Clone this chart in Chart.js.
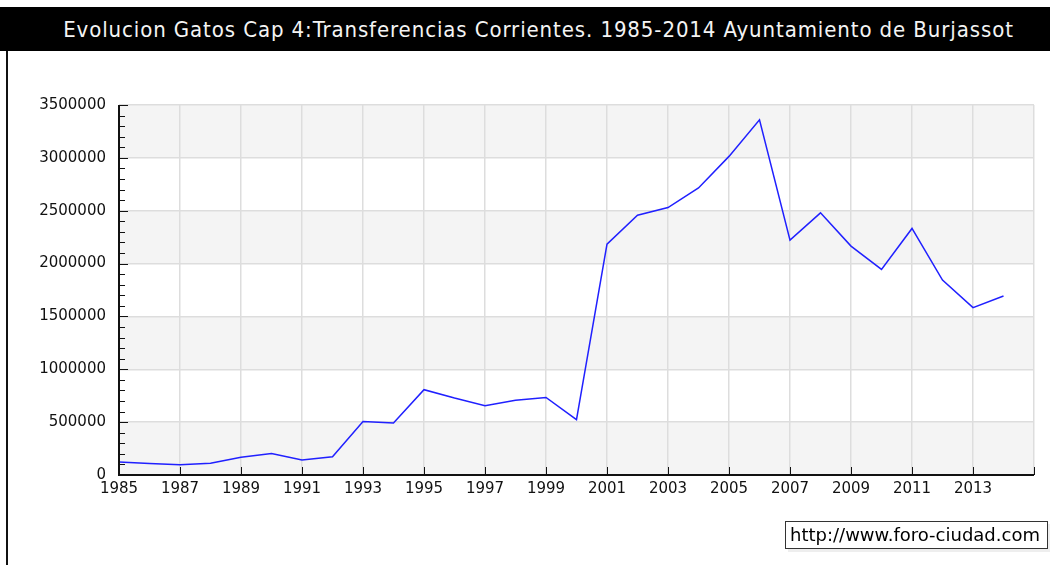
<!DOCTYPE html>
<html>
<head>
<meta charset="utf-8">
<script src="https://cdn.jsdelivr.net/npm/chart.js@4.4.1/dist/chart.umd.min.js"></script>
<style>
  html, body { margin: 0; padding: 0; background: #fff; }
  body { width: 1050px; height: 565px; position: relative; overflow: hidden; }
  #title {
    position: absolute; left: 0; top: 7px; width: 1050px; height: 44px;
    background: #000; color: #f4f4f4; text-align: center; box-sizing: border-box; padding-left: 27px;
    font: 22px "DejaVu Sans Condensed", "DejaVu Sans", sans-serif; letter-spacing: 0.9px; line-height: 46px;
  }
  #leftline { position: absolute; left: 6px; top: 51px; width: 2px; height: 514px; background: #111; }
  #wrap { position: absolute; left: 0; top: 52px; width: 1050px; height: 513px; }
  #mark {
    position: absolute; left: 785px; top: 521px; width: 263px; height: 28px;
    border: 1px solid #333; background: #fff; box-shadow: 3px 3px 0 #eee;
    font: 18px "DejaVu Sans", sans-serif; line-height: 26px; color: #000; padding-left: 4px; box-sizing: border-box;
  }
</style>
</head>
<body>
<div id="title">Evolucion Gatos Cap 4:Transferencias Corrientes. 1985-2014 Ayuntamiento de Burjassot</div>
<div id="leftline"></div>
<div id="wrap"><canvas id="gastosChart"></canvas></div>
<div id="mark">http://www.foro-ciudad.com</div>
<script>
// datos
const years = [1985, 1986, 1987, 1988, 1989, 1990, 1991, 1992, 1993, 1994,
  1995, 1996, 1997, 1998, 1999, 2000, 2001, 2002, 2003, 2004,
  2005, 2006, 2007, 2008, 2009, 2010, 2011, 2012, 2013, 2014];
const valores = [124000, 108000, 96000, 112000, 168000, 203000, 143000, 172000, 505000, 492000,
  807000, 728000, 656000, 706000, 734000, 524000, 2184000, 2458000, 2530000, 2715000,
  3014000, 3360000, 2222000, 2480000, 2165000, 1945000, 2332000, 1844000, 1583000, 1693000];
const yMax = 3500000;
const yStep = 500000;
const yMinorStep = 100000;

// bandas grises alternas y marcas hacia dentro
const bandas = {
  id: "bandas",
  beforeDraw(chart) {
    const { ctx, chartArea: a, scales: { y } } = chart;
    ctx.save();
    ctx.fillStyle = "#f4f4f4";
    for (let v = 0; v < yMax; v += yStep * 2) {
      const top = y.getPixelForValue(v + yStep);
      const bot = y.getPixelForValue(v);
      ctx.fillRect(a.left, top, a.right - a.left, bot - top);
    }
    ctx.restore();
  },
  afterDraw(chart) {
    const { ctx, chartArea: a, scales: { x, y } } = chart;
    ctx.save();
    ctx.strokeStyle = "#111";
    ctx.lineWidth = 1;
    ctx.beginPath();
    for (let v = 0; v <= yMax; v += yMinorStep) {
      const py = Math.round(y.getPixelForValue(v)) + 0.5;
      const len = v % yStep === 0 ? 9 : 6;
      ctx.moveTo(a.left, py);
      ctx.lineTo(a.left + len, py);
    }
    x.ticks.forEach((t) => {
      const px = Math.round(x.getPixelForValue(t.value)) + 0.5;
      ctx.moveTo(px, a.bottom);
      ctx.lineTo(px, a.bottom - 8);
    });
    ctx.stroke();
    ctx.lineWidth = 2;
    ctx.beginPath();
    ctx.moveTo(a.left, a.top);
    ctx.lineTo(a.left, a.bottom);
    ctx.lineTo(a.right, a.bottom);
    ctx.stroke();
    ctx.restore();
  },
};

const ctx = document.getElementById("gastosChart").getContext("2d");
new Chart(ctx, {
  type: "line",
  data: {
    datasets: [
      {
        data: years.map((yr, i) => ({ x: yr, y: valores[i] })),
        borderColor: "#2020ff",
        borderWidth: 1.5,
        pointRadius: 0,
        fill: false,
        tension: 0,
      },
    ],
  },
  options: {
    responsive: true,
    maintainAspectRatio: false,
    animation: false,
    layout: { padding: { left: 0, right: 16, top: 53, bottom: 60 } },
    plugins: { legend: { display: false }, tooltip: { enabled: false } },
    scales: {
      x: {
        type: "linear",
        min: 1985,
        max: 2015,
        ticks: {
          stepSize: 2,
          padding: 5,
          color: "#111",
          font: { family: "DejaVu Sans", size: 15 },
          maxRotation: 0,
          callback: (v) => (v === 2015 ? "" : String(v)),
        },
        grid: { color: "#dddddd", lineWidth: 1.5, drawTicks: false },
        border: { display: false },
        afterFit(scale) { scale.height = 30; },
      },
      y: {
        min: 0,
        max: yMax,
        ticks: {
          stepSize: yStep,
          padding: 13,
          color: "#111",
          font: { family: "DejaVu Sans", size: 15 },
          callback: (v) => String(v),
        },
        grid: { color: "#dddddd", lineWidth: 1.5, drawTicks: false },
        border: { display: false },
        afterFit(scale) { scale.width = 119; },
      },
    },
  },
  plugins: [bandas],
});
</script>
</body>
</html>
